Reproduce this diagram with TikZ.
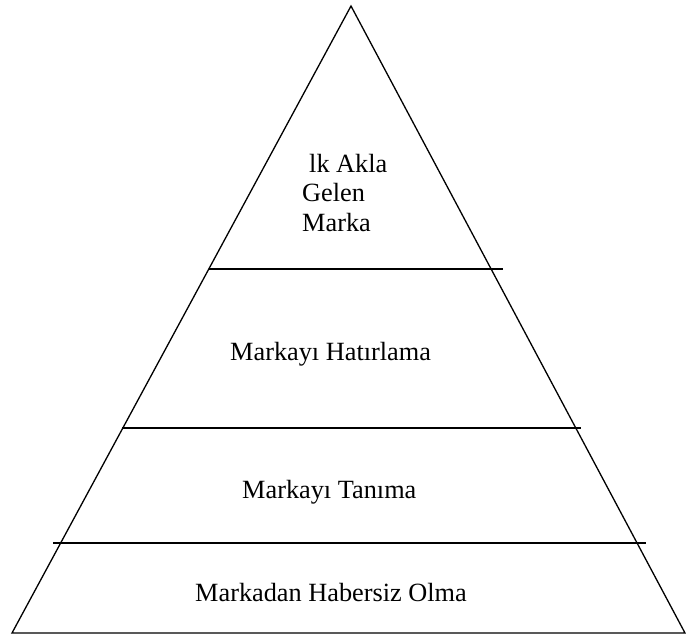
\documentclass[tikz,border=0pt]{standalone}
\usepackage{fontspec}
\setmainfont{Liberation Serif}
\begin{document}
\begin{tikzpicture}[x=1pt,y=-1pt,
  edge/.style={line width=1.3pt,line join=miter},
  label/.style={anchor=base west,inner sep=0pt,font=\fontsize{26.3}{30}\selectfont}]
\useasboundingbox (0,0) rectangle (686,635);
% triangle
\coordinate (apex) at (351,6);
\coordinate (bl) at (12,633);
\coordinate (br) at (685,633);
\draw[edge] (bl) -- (apex) -- (br) -- cycle;
% level lines
\coordinate (l1a) at (209,269); \coordinate (l1b) at (503,269);
\coordinate (l2a) at (122,428); \coordinate (l2b) at (581,428);
\coordinate (l3a) at (53,543);  \coordinate (l3b) at (646,543);
\draw[edge] (l1a) -- (l1b);
\draw[edge] (l2a) -- (l2b);
\draw[edge] (l3a) -- (l3b);
% texts
\node[label] (t1) at (309,172) {lk Akla};
\node[label] (t2) at (302,201) {Gelen};
\node[label] (t3) at (302,231) {Marka};
\node[label] (t4) at (230,360) {Markayı Hatırlama};
\node[label] (t5) at (242,498) {Markayı Tanıma};
\node[label] (t6) at (195,601) {Markadan Habersiz Olma};
\end{tikzpicture}
\end{document}
